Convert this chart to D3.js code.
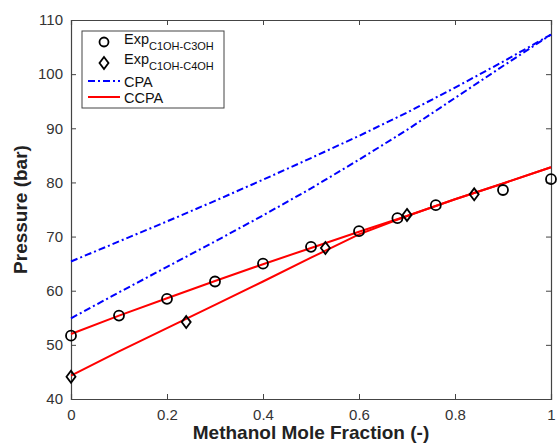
<!DOCTYPE html>
<html>
<head>
<meta charset="utf-8">
<script src="https://cdn.jsdelivr.net/npm/d3@7"></script>
<style>
  body { margin: 0; background: #fff; }
  svg { font-family: "Liberation Sans", Arial, sans-serif; }
  .tick text { fill: #333; font-size: 15px; }
  .axis path, .axis line { stroke: #444; }
  .lbl { font-weight: bold; fill: #222; }
</style>
</head>
<body>
<svg id="chart" width="557" height="443"></svg>
<script>
// methanol mole fraction grid for model curves
const xModel = [0, 0.1, 0.2, 0.3, 0.4, 0.5, 0.6, 0.7, 0.8, 0.9, 1.0];
const cpaC3 = [65.4, 69.1, 72.8, 76.6, 80.5, 84.5, 88.6, 92.9, 97.5, 102.3, 107.3];
const cpaC4 = [54.9, 59.7, 64.4, 69.1, 73.9, 78.9, 84.2, 89.7, 95.6, 101.5, 107.3];
const ccpaC3 = [52.0, 55.4, 58.6, 61.8, 64.9, 67.9, 70.9, 73.8, 76.9, 79.8, 82.8];
const ccpaC4 = [44.3, 48.8, 53.1, 57.4, 61.7, 66.1, 70.4, 73.8, 76.9, 79.8, 82.8];

// experimental points
const expC3x = [0, 0.1, 0.2, 0.3, 0.4, 0.5, 0.6, 0.68, 0.76, 0.9, 1.0];
const expC3y = [51.7, 55.4, 58.5, 61.7, 65.0, 68.1, 71.0, 73.4, 75.8, 78.6, 80.6];
const expC4x = [0, 0.24, 0.53, 0.70, 0.84];
const expC4y = [44.1, 54.2, 67.9, 74.0, 77.8];

const xTicks = [0, 0.2, 0.4, 0.6, 0.8, 1];
const yTicks = [40, 50, 60, 70, 80, 90, 100, 110];

const margin = {top: 20, right: 6, bottom: 44, left: 71};
const W = 557, H = 443;
const w = W - margin.left - margin.right, h = H - margin.top - margin.bottom;

const svg = d3.select('#chart');
const g = svg.append('g').attr('transform', `translate(${margin.left},${margin.top})`);

const x = d3.scaleLinear().domain([0, 1]).range([0, w]);
const y = d3.scaleLinear().domain([40, 110]).range([h, 0]);

// box + inward ticks on all sides
g.append('g').attr('class', 'axis').attr('transform', `translate(0,${h})`)
  .call(d3.axisBottom(x).tickValues(xTicks).tickSize(-5).tickPadding(10).tickFormat(d3.format('')));
g.append('g').attr('class', 'axis')
  .call(d3.axisTop(x).tickValues(xTicks).tickSize(-5).tickFormat(''));
g.append('g').attr('class', 'axis')
  .call(d3.axisLeft(y).tickValues(yTicks).tickSize(-5).tickPadding(8));
g.append('g').attr('class', 'axis').attr('transform', `translate(${w},0)`)
  .call(d3.axisRight(y).tickValues(yTicks).tickSize(-5).tickFormat(''));
g.selectAll('.axis path').attr('stroke-width', 1.2);

const line = d3.line().x(d => x(d[0])).y(d => y(d[1]));
const pairs = (xs, ys) => xs.map((v, i) => [v, ys[i]]);

[cpaC3, cpaC4].forEach(s => {
  g.append('path').datum(pairs(xModel, s)).attr('d', line)
    .attr('fill', 'none').attr('stroke', '#0000ff').attr('stroke-width', 2)
    .attr('stroke-dasharray', '7,3,2,3');
});
[ccpaC3, ccpaC4].forEach(s => {
  g.append('path').datum(pairs(xModel, s)).attr('d', line)
    .attr('fill', 'none').attr('stroke', '#ff0000').attr('stroke-width', 2);
});

const diamond = 'M0,-6L4.5,0L0,6L-4.5,0Z';

g.selectAll('.c3').data(pairs(expC3x, expC3y)).join('circle')
  .attr('cx', d => x(d[0])).attr('cy', d => y(d[1])).attr('r', 5)
  .attr('fill', 'none').attr('stroke', '#000').attr('stroke-width', 1.8);
g.selectAll('.c4').data(pairs(expC4x, expC4y)).join('path')
  .attr('d', diamond).attr('transform', d => `translate(${x(d[0])},${y(d[1])})`)
  .attr('fill', 'none').attr('stroke', '#000').attr('stroke-width', 1.8);

// legend
const lg = g.append('g').attr('transform', 'translate(11,11)');
lg.append('rect').attr('width', 142).attr('height', 77)
  .attr('fill', '#fff').attr('stroke', '#444').attr('stroke-width', 1);
lg.append('circle').attr('cx', 22).attr('cy', 11).attr('r', 4.5)
  .attr('fill', 'none').attr('stroke', '#000').attr('stroke-width', 1.8);
lg.append('path').attr('d', diamond).attr('transform', 'translate(22,32)')
  .attr('fill', 'none').attr('stroke', '#000').attr('stroke-width', 1.8);
lg.append('line').attr('x1', 6).attr('x2', 38).attr('y1', 50).attr('y2', 50)
  .attr('stroke', '#0000ff').attr('stroke-width', 2).attr('stroke-dasharray', '7,3,2,3');
lg.append('line').attr('x1', 6).attr('x2', 38).attr('y1', 66).attr('y2', 66)
  .attr('stroke', '#ff0000').attr('stroke-width', 2);

const legText = [
  {y: 13, main: 'Exp', sub: 'C1OH-C3OH'},
  {y: 33, main: 'Exp', sub: 'C1OH-C4OH'},
  {y: 55.5, main: 'CPA'},
  {y: 72, main: 'CCPA'}
];
legText.forEach(t => {
  const tx = lg.append('text').attr('x', 42).attr('y', t.y).attr('font-size', 14.5).attr('fill', '#111');
  tx.append('tspan').text(t.main);
  if (t.sub) tx.append('tspan').attr('dy', 6).attr('font-size', 11).text(t.sub);
});

// axis labels
svg.append('text').attr('class', 'lbl').attr('x', margin.left + w / 2).attr('y', 439)
  .attr('text-anchor', 'middle').attr('font-size', 19).text('Methanol Mole Fraction (-)');
svg.append('text').attr('class', 'lbl')
  .attr('transform', `translate(27,${margin.top + h / 2}) rotate(-90)`)
  .attr('text-anchor', 'middle').attr('font-size', 19).text('Pressure (bar)');
</script>
</body>
</html>
